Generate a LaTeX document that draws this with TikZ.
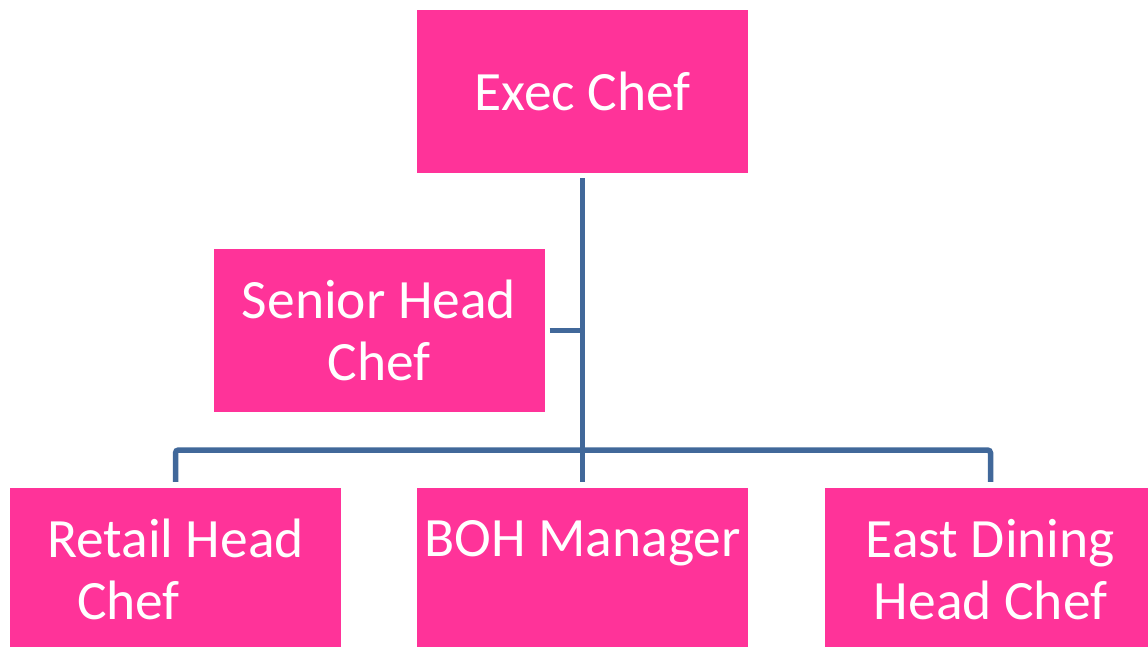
\documentclass[tikz,border=0pt]{standalone}
\usepackage{fontspec}
\setmainfont{Carlito}
\usetikzlibrary{positioning}

\definecolor{rolepink}{HTML}{FF3399}
\definecolor{linkblue}{HTML}{41689A}

\begin{document}
\begin{tikzpicture}[x=1pt, y=-1pt,
        role/.style={fill=rolepink, text=white, minimum width=331pt, minimum height=163pt,
                inner sep=0pt, align=center, font=\fontsize{55.5}{62}\selectfont},
        link/.style={draw=linkblue, line width=5.5pt, rounded corners=3pt}]
        \useasboundingbox (0,0) rectangle (1148,647);
        \clip (0,0) rectangle (1148,647);
        % boxes
        \node[role] (exec) at (582.5,91.5) {Exec Chef};
        \node[role] (senior) at (379,330.5) {Senior Head\\Chef};
        \node[role, align=left] (retail) at (175.5,569.5) {Retail Head\\\hspace*{30pt}Chef};
        \node[role] (boh) at (582.5,569.5) {BOH Manager\\\mbox{}};
        \node[role] (east) at (990.5,569.5) {East Dining\\Head Chef};
        % connectors
        \coordinate (bus) at (582.5,450);
        \draw[link] ([yshift=-5pt]exec.south) -- ([yshift=6pt]boh.north);
        \draw[link] ([xshift=5pt]senior.east) -- (senior.east -| exec.south);
        \draw[link] ([yshift=6pt]retail.north) |- (bus) -| ([yshift=6pt]east.north);
    \end{tikzpicture}
\end{document}
